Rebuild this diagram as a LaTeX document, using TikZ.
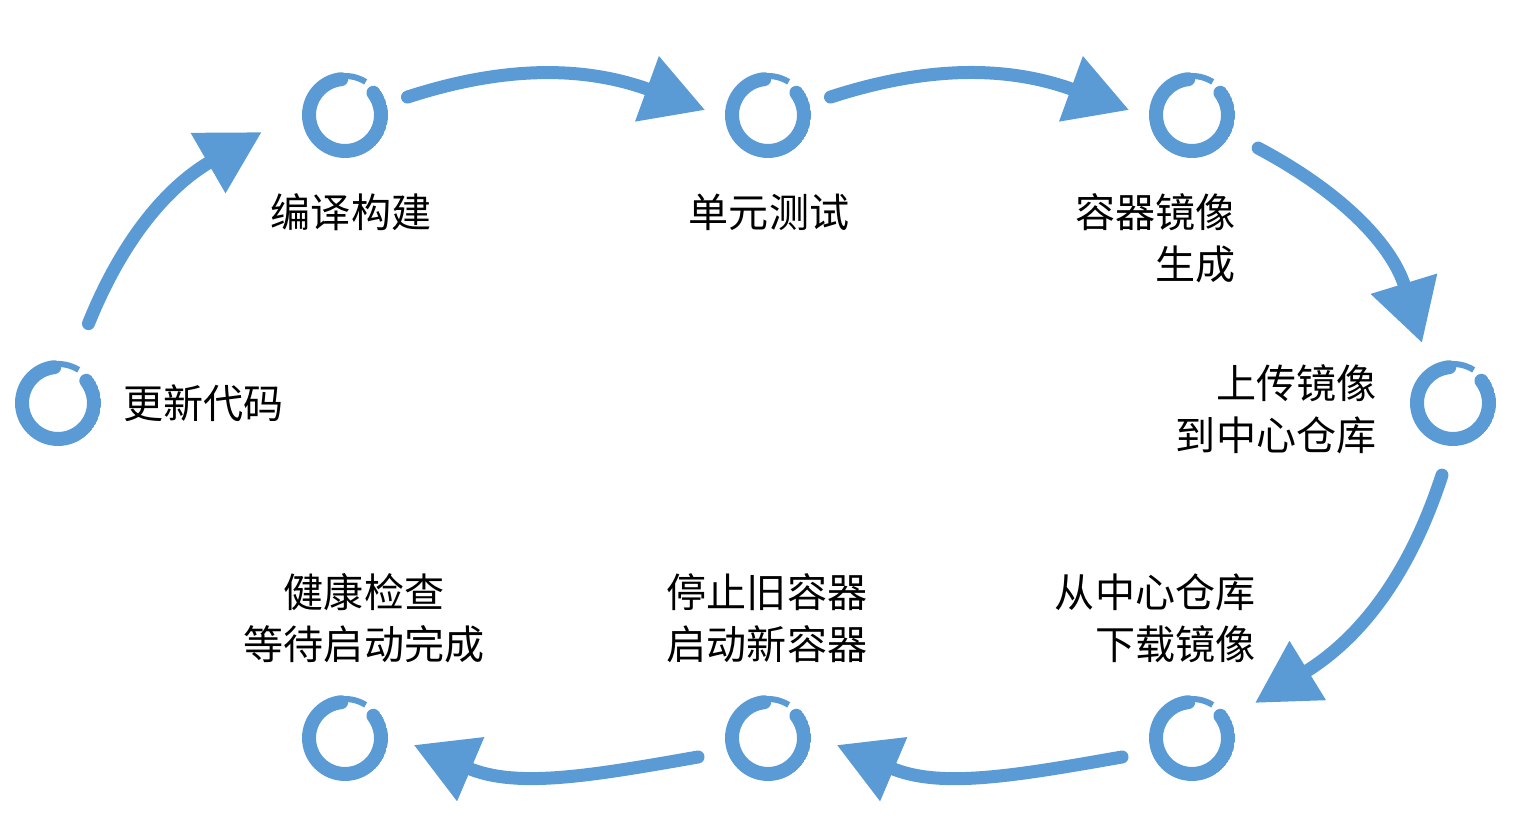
\documentclass[tikz,border=0pt]{standalone}
\usepackage{fontspec}
\setmainfont{Noto Sans CJK SC}
\usetikzlibrary{arrows.meta, calc}
\definecolor{cblue}{HTML}{5B9BD5}
\tikzset{
  every picture/.style={font=\fontsize{11.4}{14.8}\selectfont},
  ring/.style={circle, minimum size=8.6mm, inner sep=0pt,
    path picture={
      \draw[cblue, line width=1.4mm, line cap=round]
        (path picture bounding box.center) ++(96:3.6mm) arc[start angle=96, end angle=398, radius=3.6mm];
      \draw[cblue, line width=0.6mm]
        (path picture bounding box.center) ++(58:3.9mm) arc[start angle=58, end angle=100, radius=3.9mm];}},
  flow/.style={-{Triangle[length=6.2mm, width=6.6mm]}, draw=cblue, line width=1.3mm, line cap=round},
  txt/.style={inner sep=0pt, align=center},
}

\begin{document}
\begin{tikzpicture}
  \useasboundingbox (0,0) rectangle (15.24,8.18);
  % steps
  \node[ring] (upd) at (0.58,4.15) {};
  \node[ring] (bld) at (3.45,7.03) {};
  \node[ring] (tst) at (7.68,7.03) {};
  \node[ring] (img) at (11.92,7.03) {};
  \node[ring] (psh) at (14.53,4.15) {};
  \node[ring] (pul) at (11.92,0.80) {};
  \node[ring] (swp) at (7.68,0.80) {};
  \node[ring] (chk) at (3.45,0.80) {};
  % labels
  \node[txt, anchor=west] (updl) at (1.23,4.15) {更新代码};
  \node[txt] (bldl) at (3.51,6.06) {编译构建};
  \node[txt] (tstl) at (7.69,6.06) {单元测试};
  \node[txt, align=right, anchor=east] (imgl) at (12.36,5.80) {容器镜像\\生成};
  \node[txt, align=right, anchor=east] (pshl) at (13.77,4.09) {上传镜像\\到中心仓库};
  \node[txt, align=right, anchor=east] (pull) at (12.56,2.00) {从中心仓库\\下载镜像};
  \node[txt] (swpl) at (7.67,2.00) {停止旧容器\\启动新容器};
  \node[txt] (chkl) at (3.64,2.00) {健康检查\\等待启动完成};
  % flow
  \draw[flow] ($(upd)+(69:0.85)$) to[out=68, in=210] ($(bld)+(191.6:0.85)$);
  \draw[flow] ($(bld)+(16:0.65)$) to[out=18, in=160] ($(tst)+(175.5:0.63)$);
  \draw[flow] ($(tst)+(16:0.65)$) to[out=18, in=160] ($(img)+(175.5:0.63)$);
  \draw[flow] ($(img)+(-26.6:0.74)$) to[out=-28, in=107] ($(psh)+(117.3:0.675)$);
  \draw[flow] ($(psh)+(261.3:0.73)$) to[out=-108, in=31.6] ($(pul)+(29.1:0.72)$);
  \draw[flow] ($(pul)+(195.2:0.725)$) to[out=190, in=-23] ($(swp)+(-5.8:0.69)$);
  \draw[flow] ($(swp)+(195.2:0.725)$) to[out=190, in=-23] ($(chk)+(-5.8:0.69)$);
\end{tikzpicture}
\end{document}
